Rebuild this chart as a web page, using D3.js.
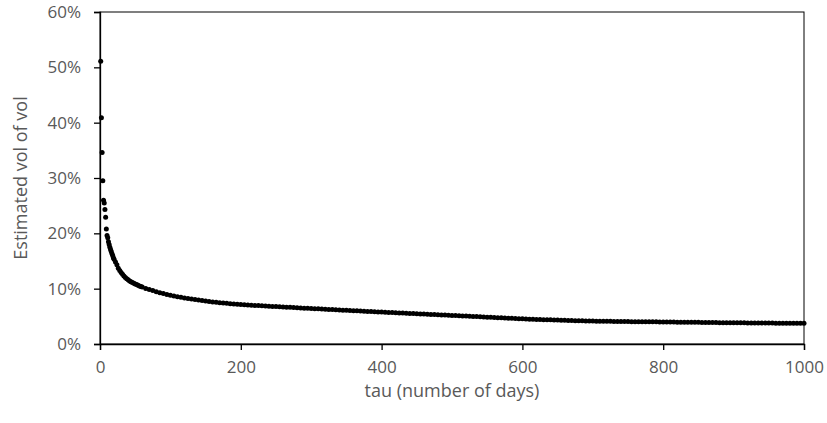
<!DOCTYPE html>
<html>
<head>
<meta charset="utf-8">
<script src="https://cdn.jsdelivr.net/npm/d3@7"></script>
<style>
  body { margin: 0; background: #fff; }
  .tick text { font-family: "Open Sans", sans-serif; font-size: 17px; fill: #595959; }
  .title { font-family: "Open Sans", sans-serif; font-size: 18px; fill: #595959; }
</style>
</head>
<body>
<script>
// tau (days) and the estimated vol of vol (%)
var tauDays = [1,2,3,4,5,6,7,8,9,10,11,12,13,14,15,16,17,18,19,20,
  22,24,26,28,30,32,34,36,38,40,42,44,46,48,50,52,54,56,58,60,
  65,70,75,80,85,90,95,100,105,110,115,120,125,130,135,140,145,150,155,160,
  165,170,175,180,185,190,195,200,205,210,215,220,225,230,235,240,245,250,255,260,
  265,270,275,280,285,290,295,300,305,310,315,320,325,330,335,340,345,350,355,360,
  365,370,375,380,385,390,395,400,405,410,415,420,425,430,435,440,445,450,455,460,
  465,470,475,480,485,490,495,500,505,510,515,520,525,530,535,540,545,550,555,560,
  565,570,575,580,585,590,595,600,605,610,615,620,625,630,635,640,645,650,655,660,
  665,670,675,680,685,690,695,700,705,710,715,720,725,730,735,740,745,750,755,760,
  765,770,775,780,785,790,795,800,805,810,815,820,825,830,835,840,845,850,855,860,
  865,870,875,880,885,890,895,900,905,910,915,920,925,930,935,940,945,950,955,960,
  965,970,975,980,985,990,995,1000];

var volOfVol = [51.1,40.9,34.6,29.5,26.0,25.5,24.3,22.9,20.8,19.6,19.2,18.5,18.0,17.5,17.1,16.7,16.3,16.0,15.6,15.3,
  14.8,14.3,13.7,13.3,12.9,12.6,12.3,12.0,11.8,11.6,11.4,11.25,11.1,11.0,10.85,10.75,10.6,10.5,10.4,10.3,
  10.05,9.85,9.65,9.45,9.28,9.12,8.95,8.82,8.68,8.56,8.44,8.32,8.22,8.11,8.02,7.93,7.84,7.76,7.68,7.61,
  7.54,7.47,7.41,7.35,7.29,7.24,7.19,7.14,7.10,7.06,7.02,6.98,6.94,6.90,6.86,6.83,6.79,6.76,6.72,6.69,
  6.65,6.62,6.58,6.55,6.51,6.48,6.44,6.41,6.38,6.35,6.31,6.28,6.25,6.22,6.18,6.15,6.12,6.09,6.05,6.02,
  5.99,5.96,5.92,5.89,5.86,5.83,5.80,5.77,5.74,5.71,5.68,5.65,5.62,5.59,5.56,5.53,5.50,5.47,5.44,5.41,
  5.38,5.35,5.32,5.29,5.26,5.23,5.19,5.16,5.13,5.10,5.07,5.04,5.01,4.98,4.95,4.92,4.88,4.85,4.82,4.79,
  4.76,4.73,4.70,4.67,4.64,4.61,4.58,4.55,4.52,4.49,4.46,4.44,4.42,4.40,4.38,4.36,4.34,4.32,4.30,4.28,
  4.26,4.24,4.22,4.20,4.19,4.17,4.16,4.14,4.13,4.12,4.11,4.10,4.09,4.08,4.07,4.06,4.06,4.05,4.04,4.04,
  4.03,4.02,4.01,4.01,4.00,4.00,3.99,3.98,3.97,3.97,3.96,3.95,3.94,3.94,3.93,3.92,3.91,3.91,3.90,3.89,
  3.89,3.88,3.87,3.86,3.86,3.85,3.84,3.84,3.83,3.82,3.82,3.81,3.81,3.80,3.80,3.79,3.79,3.78,3.78,3.77,
  3.77,3.76,3.76,3.76,3.75,3.75,3.75,3.74];

var xTicks = [0, 200, 400, 600, 800, 1000];
var yTicks = [0, 10, 20, 30, 40, 50, 60];

var margin = {top: 12, right: 23, bottom: 79, left: 100},
    width = 827 - margin.left - margin.right,
    height = 423 - margin.top - margin.bottom;

var x = d3.scaleLinear().domain([0, 1000]).range([0, width]);
var y = d3.scaleLinear().domain([0, 60]).range([height, 0]);

var svg = d3.select("body").append("svg")
    .attr("width", 827)
    .attr("height", 423)
    .append("g")
    .attr("transform", "translate(" + margin.left + "," + margin.top + ")");

// plot border (top and right)
svg.append("rect")
    .attr("x", 0).attr("y", 0)
    .attr("width", width).attr("height", height)
    .attr("fill", "none")
    .attr("stroke", "#000")
    .attr("stroke-width", 1);

// X axis
var xAxis = svg.append("g")
    .attr("transform", "translate(0," + height + ")")
    .call(d3.axisBottom(x).tickValues(xTicks).tickSize(6).tickPadding(11)
        .tickFormat(d3.format("d")));

// Y axis
var yAxis = svg.append("g")
    .call(d3.axisLeft(y).tickValues(yTicks).tickSize(6).tickPadding(13)
        .tickFormat(function (d) { return d + "%"; }));

[xAxis, yAxis].forEach(function (g) {
    g.select(".domain").attr("stroke", "#000").attr("stroke-width", 1.3);
    g.selectAll(".tick line").attr("stroke", "#000").attr("stroke-width", 1.3);
    g.selectAll(".tick text").attr("font-family", null).attr("font-size", null);
});

// dots
var pts = tauDays.map(function (t, i) { return {tau: t, vol: volOfVol[i]}; });
svg.selectAll("circle.pt")
    .data(pts)
    .enter()
    .append("circle")
    .attr("class", "pt")
    .attr("cx", function (d) { return x(d.tau); })
    .attr("cy", function (d) { return y(d.vol); })
    .attr("r", 2.5)
    .attr("fill", "#000");

// axis titles
svg.append("text")
    .attr("class", "title")
    .attr("x", width / 2)
    .attr("y", height + 53)
    .attr("text-anchor", "middle")
    .text("tau (number of days)");

svg.append("text")
    .attr("class", "title")
    .attr("transform", "translate(" + (-73) + "," + (height / 2) + ") rotate(-90)")
    .attr("text-anchor", "middle")
    .text("Estimated vol of vol");
</script>
</body>
</html>
